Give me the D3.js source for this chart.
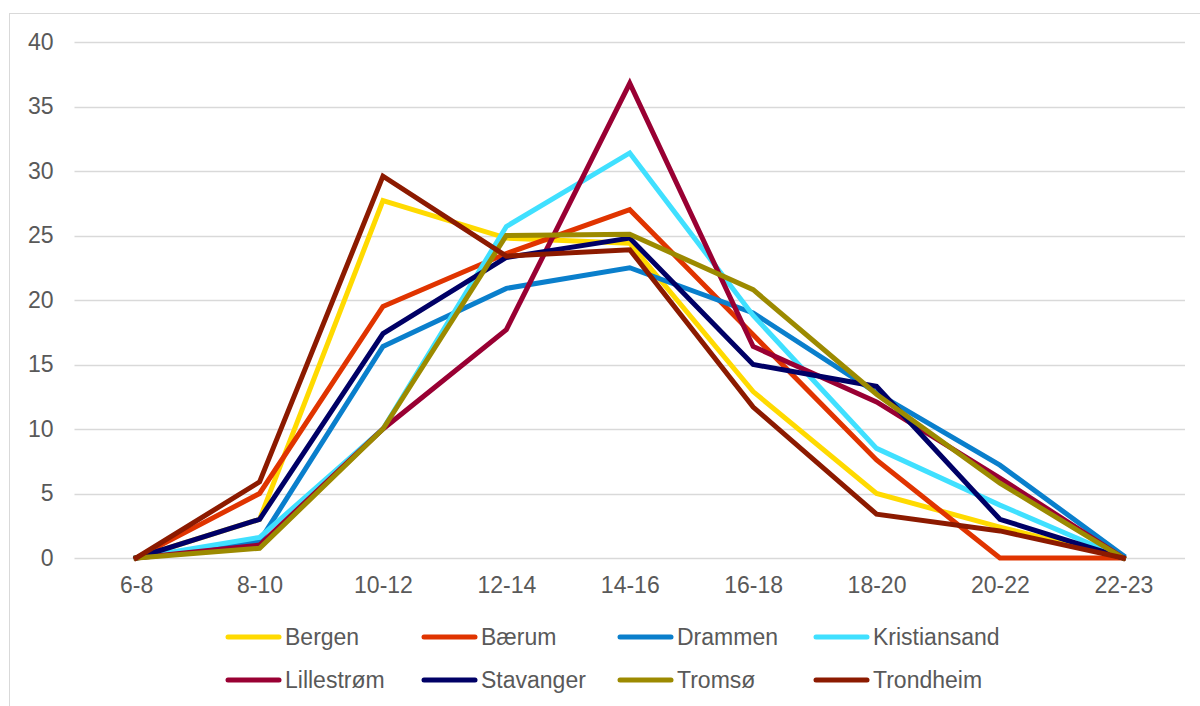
<!DOCTYPE html>
<html><head><meta charset="utf-8">
<script src="https://cdn.jsdelivr.net/npm/d3@7"></script>
<style>body{margin:0;background:#fff}svg{display:block}text{font-family:"Liberation Sans",Arial,sans-serif;fill:#595959}</style>
</head><body><svg id="c" width="1200" height="706"></svg>
<script>
const categories = ["6-8","8-10","10-12","12-14","14-16","16-18","18-20","20-22","22-23"];
const yTicks = [0,5,10,15,20,25,30,35,40];
const seriesNames = ["Bergen","Bærum","Drammen","Kristiansand","Lillestrøm","Stavanger","Tromsø","Trondheim"];
const seriesColors = ["#FFDA00","#E03400","#0A7FCC","#40E0FF","#990033","#000066","#9C8A00","#8C1A00"];
const bergen       = [0, 3.0, 27.7, 24.8, 24.4, 12.9, 5.0, 2.4, 0];
const baerum       = [0, 5.0, 19.5, 23.6, 27.0, 17.3, 7.6, 0, 0];
const drammen      = [0, 1.3, 16.4, 20.9, 22.5, 19.0, 12.8, 7.2, 0.2];
const kristiansand = [0, 1.6, 10.0, 25.7, 31.4, 18.8, 8.5, 4.1, 0];
const lillestrom   = [0, 1.0, 10.0, 17.7, 36.8, 16.4, 12.1, 6.2, 0];
const stavanger    = [0, 3.0, 17.4, 23.3, 24.8, 15.0, 13.3, 3.0, 0];
const tromso       = [0, 0.75, 10.0, 25.0, 25.1, 20.8, 12.7, 5.8, 0];
const trondheim    = [0, 5.9, 29.6, 23.4, 23.9, 11.7, 3.4, 2.1, 0];
const seriesValues = [bergen, baerum, drammen, kristiansand, lillestrom, stavanger, tromso, trondheim];

(function(){
const svg = d3.select("#c");
svg.append("rect").attr("x",9.5).attr("y",13.5).attr("width",1200).attr("height",700)
  .attr("fill","none").attr("stroke","#d9d9d9").attr("stroke-width",1);

const mLeft = 74.5, mRight = 1185, mTop = 42, mBottom = 558;
const fs = "23px";
const x = d3.scalePoint().domain(categories).range([mLeft, mRight]).padding(0.5);
const y = d3.scaleLinear().domain([0,40]).range([mBottom, mTop]);

const grid = svg.append("g");
grid.selectAll("line").data(yTicks).join("line")
  .attr("x1",mLeft).attr("x2",mRight)
  .attr("y1",d=>Math.round(y(d))+0.5).attr("y2",d=>Math.round(y(d))+0.5)
  .attr("stroke","#d9d9d9").attr("stroke-width",1.3);

const yAxis = svg.append("g").attr("transform",`translate(${mLeft},0)`)
  .call(d3.axisLeft(y).tickValues(yTicks).tickSize(0).tickPadding(21));
yAxis.select(".domain").remove();
yAxis.selectAll("text").style("font-size",fs).attr("fill","#595959");

const xAxis = svg.append("g").attr("transform",`translate(0,${mBottom})`)
  .call(d3.axisBottom(x).tickSize(0).tickPadding(19));
xAxis.select(".domain").remove();
xAxis.selectAll("text").style("font-size",fs).attr("fill","#595959");

const line = d3.line().x((d,i)=>x(categories[i])).y(d=>y(d));
svg.append("g").selectAll("path").data(seriesValues).join("path")
  .attr("d",d=>line(d)).attr("fill","none")
  .attr("stroke",(d,i)=>seriesColors[i]).attr("stroke-width",5)
  .attr("stroke-linejoin","miter").attr("stroke-linecap","square");

const leg = svg.append("g");
seriesNames.forEach((n,i)=>{
  const col = i%4, row = Math.floor(i/4);
  const lx = 228 + col*196, ly = 637 + row*43;
  leg.append("line").attr("x1",lx).attr("x2",lx+51).attr("y1",ly).attr("y2",ly)
    .attr("stroke",seriesColors[i]).attr("stroke-width",5).attr("stroke-linecap","round");
  leg.append("text").attr("x",lx+57).attr("y",ly).attr("dy","0.36em")
    .style("font-size",fs).text(n);
});
})();
</script></body></html>
